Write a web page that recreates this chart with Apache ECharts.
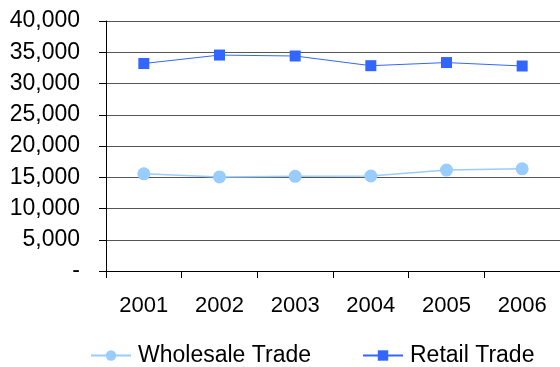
<!DOCTYPE html>
<html><head><meta charset="utf-8">
<script src="https://cdn.jsdelivr.net/npm/echarts@6/dist/echarts.min.js"></script>
<style>html,body{margin:0;padding:0;background:#fff}#c{width:560px;height:367px}</style>
</head><body><div id="c"></div>
<script>
const years = ['2001','2002','2003','2004','2005','2006'];
const wholesale = [15550, 15050, 15150, 15200, 16150, 16350];
const retail = [33200, 34550, 34400, 32850, 33350, 32800];
const yTicks = [0, 5000, 10000, 15000, 20000, 25000, 30000, 35000, 40000];

const chart = echarts.init(document.getElementById('c'));
const font = 'Liberation Sans, Arial, sans-serif';
chart.setOption({
  animation: false,
  grid: {left: 106, top: 21, width: 458, height: 250, containLabel: false},
  xAxis: {
    type: 'category', data: years, boundaryGap: true,
    axisLine: {lineStyle: {color: '#000', width: 1}},
    axisTick: {show: true, length: 7, lineStyle: {color: '#000'}},
    axisLabel: {color: '#000', fontFamily: font, fontSize: 22, margin: 24},
    splitLine: {show: false}
  },
  yAxis: {
    type: 'value', min: 0, max: 40000, interval: 5000,
    axisLine: {show: true, lineStyle: {color: '#000', width: 1}},
    axisTick: {show: true, length: 7, lineStyle: {color: '#000'}},
    splitLine: {show: true, lineStyle: {color: '#555', width: 1}},
    axisLabel: {
      color: '#000', fontFamily: font, fontSize: 23, margin: 26, padding: [4, 0, 0, 0],
      formatter: v => yTicks.includes(v) ? (v === 0 ? '-' : v.toLocaleString('en-US')) : ''
    }
  },
  legend: {
    top: 344, left: 90, padding: 0, itemWidth: 40, itemHeight: 13, itemGap: 51,
    textStyle: {color: '#000', fontFamily: font, fontSize: 23, padding: [0, 0, 0, 2]},
    data: ['Wholesale Trade', 'Retail Trade']
  },
  series: [
    {name: 'Wholesale Trade', type: 'line', data: wholesale, symbol: 'circle', symbolSize: 13,
     itemStyle: {color: '#99ccff'}, lineStyle: {color: '#99ccff', width: 1.5}},
    {name: 'Retail Trade', type: 'line', data: retail, symbol: 'rect', symbolSize: 11,
     itemStyle: {color: '#3366ff'}, lineStyle: {color: '#3366ff', width: 1}}
  ]
});
</script></body></html>
